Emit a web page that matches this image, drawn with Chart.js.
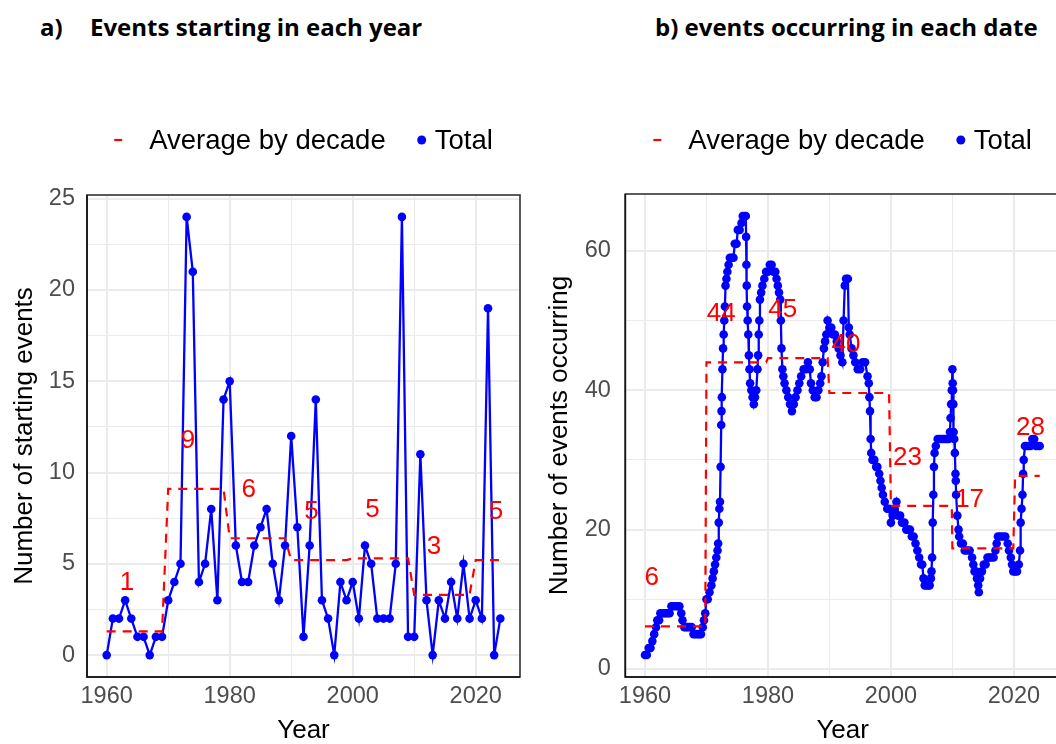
<!DOCTYPE html>
<html><head><meta charset="utf-8">
<script src="https://cdn.jsdelivr.net/npm/chart.js@4.4.1/dist/chart.umd.min.js"></script>
<style>
html,body{margin:0;padding:0;background:#fff;width:1056px;height:744px;overflow:hidden;position:relative}
.ttl{position:absolute;top:13px;font-family:"Open Sans",Lato,sans-serif;font-weight:bold;font-size:24px;line-height:28px;color:#000;white-space:pre}
canvas{position:absolute;top:0}
</style></head><body>
<div class="ttl" style="left:40px">a)</div>
<div class="ttl" style="left:90px">Events starting in each year</div>
<div class="ttl" style="left:655px">b) events occurring in each date</div>
<canvas id="ca" width="540" height="744" style="left:0"></canvas>
<canvas id="cb" width="540" height="744" style="left:540px"></canvas>
<script>
// ---------- data ----------
const yearsA = [1960,1961,1962,1963,1964,1965,1966,1967,1968,1969,
  1970,1971,1972,1973,1974,1975,1976,1977,1978,1979,
  1980,1981,1982,1983,1984,1985,1986,1987,1988,1989,
  1990,1991,1992,1993,1994,1995,1996,1997,1998,1999,
  2000,2001,2002,2003,2004,2005,2006,2007,2008,2009,
  2010,2011,2012,2013,2014,2015,2016,2017,2018,2019,
  2020,2021,2022,2023,2024];
const startsA = [0,2,2,3,2,1,1,0,1,1,
  3,4,5,24,21,4,5,8,3,14,
  15,6,4,4,6,7,8,5,3,6,
  12,7,1,6,14,3,2,0,4,3,
  4,2,6,5,2,2,2,5,24,1,
  1,11,3,0,3,2,4,2,5,2,
  3,2,19,0,2];
const decades = [1960,1970,1980,1990,2000,2010,2020];
const avgA = [1.3,9.1,6.4,5.2,5.3,3.3,5.2];
const labelYearsA = [1963.3,1973.2,1983.1,1993.3,2003.2,2013.2,2023.3];

const datesB = [
  1960.0,1960.3,1960.6,1960.9,1961.2,1961.5,1961.8,1962.0,1962.3,1962.5,
  1962.8,1963.1,1963.4,1963.7,1964.0,1964.3,1964.6,1965.0,1965.3,1965.6,
  1965.9,1966.1,1966.4,1966.7,1967.0,1967.3,1967.6,1967.9,1968.2,1968.5,
  1968.8,1969.1,1969.4,1969.6,1969.8,
  1970.0,1970.2,1970.5,1970.8,1971.0,1971.2,1971.4,1971.6,1971.8,1971.9,
  1972.0,1972.1,1972.2,1972.3,1972.4,1972.45,1972.5,1972.6,1972.7,1972.8,
  1972.9,1973.0,1973.1,1973.25,1973.4,1973.6,1973.8,1974.1,1974.4,1974.6,
  1974.9,1975.1,1975.4,1975.7,1975.9,1976.2,1976.4,1976.45,1976.5,1976.55,
  1976.6,1976.7,1976.8,1976.9,1977.0,1977.1,1977.3,1977.5,1977.7,1977.9,
  1978.1,1978.3,1978.4,1978.5,1978.6,1978.7,1978.9,1979.1,1979.4,1979.7,
  1980.0,1980.3,1980.6,1980.9,1981.2,1981.4,1981.6,1981.8,1982.0,1982.1,
  1982.2,1982.35,1982.5,1982.7,1983.0,1983.3,1983.6,1983.9,1984.2,1984.5,
  1984.8,1985.1,1985.4,1985.8,1986.2,1986.5,1986.8,1987.0,1987.3,1987.6,
  1987.9,1988.2,1988.5,1988.7,1988.9,1989.1,1989.3,1989.5,1989.7,
  1990.0,1990.3,1990.6,1990.9,1991.2,1991.5,1991.8,1992.1,1992.3,1992.5,
  1992.7,1993.0,1993.15,1993.3,1993.6,1993.9,1994.2,1994.6,1995.0,1995.4,
  1995.8,1996.2,1996.4,1996.5,1996.6,1996.7,1996.8,1997.0,1997.3,1997.6,
  1997.8,1998.1,1998.3,1998.5,1998.7,1999.0,1999.4,1999.7,
  2000.0,2000.3,2000.6,2000.9,2001.2,2001.5,2001.8,2002.2,2002.5,2002.8,
  2003.1,2003.4,2003.7,2004.0,2004.3,2004.6,2004.9,2005.1,2005.3,2005.5,
  2005.8,2006.1,2006.3,2006.5,2006.6,2006.7,2006.8,2006.9,2007.0,2007.1,
  2007.3,2007.6,2007.9,2008.2,2008.5,2008.8,2009.1,2009.4,2009.6,2009.7,
  2009.8,2009.9,
  2010.0,2010.05,2010.1,2010.15,2010.2,2010.3,2010.4,2010.5,2010.55,2010.6,
  2010.8,2011.0,2011.1,2011.4,2011.7,2012.0,2012.4,2012.8,2013.2,2013.4,
  2013.6,2013.8,2014.0,2014.2,2014.3,2014.5,2014.8,2015.1,2015.4,2015.7,
  2016.0,2016.3,2016.7,2017.0,2017.2,2017.4,2017.8,2018.2,2018.6,2019.0,
  2019.2,2019.5,2019.7,2019.9,
  2020.2,2020.5,2020.8,2021.0,2021.1,2021.25,2021.4,2021.5,2021.6,2021.8,
  2022.1,2022.4,2022.7,2023.0,2023.3,2023.6,2023.9,2024.2];
const occurringB = [
  2,2,3,3,4,5,6,7,7,8,
  8,8,8,8,8,9,9,9,9,9,
  8,7,6,6,6,6,6,5,5,5,
  5,5,6,7,8,
  10,10,11,12,13,14,15,16,17,18,
  21,23,24,29,35,37,39,43,46,48,
  50,52,55,56,57,58,59,59,59,61,
  61,63,63,64,65,65,65,62,58,55,
  52,50,48,45,43,41,40,39,38,39,
  40,43,45,48,50,53,54,55,56,57,
  57,58,58,57,57,56,55,54,53,50,
  46,43,42,41,40,39,38,37,38,39,
  40,41,42,43,43,44,43,41,40,39,
  39,40,41,42,44,46,47,48,50,
  49,49,48,48,47,46,45,44,50,55,
  56,56,49,48,46,45,44,43,43,44,
  44,42,41,39,37,33,31,30,30,29,
  29,28,27,26,25,24,23,23,
  21,22,23,24,22,22,21,21,20,20,
  20,19,19,18,17,16,15,15,13,12,
  12,12,12,13,14,16,21,25,29,31,
  32,33,33,33,33,33,33,33,34,36,
  38,40,
  43,41,40,38,34,33,31,28,27,25,
  22,20,19,18,18,17,17,17,16,15,
  14,14,13,12,11,13,14,15,15,16,
  16,16,16,17,18,19,19,19,19,18,
  17,16,15,14,
  14,14,15,17,21,23,25,28,30,32,
  32,32,32,33,33,32,32,32];
const avgB = [6.1,44.0,44.6,39.6,23.4,17.3,27.7];
const labelYearsB = [1961.1,1972.4,1982.4,1992.7,2002.7,2012.8,2022.7];

const xTicks = [1960,1970,1980,1990,2000,2010,2020];
const yTicksA = [0,2.5,5,7.5,10,12.5,15,17.5,20,22.5,25];
const yTicksB = [0,10,20,30,40,50,60];

// ---------- helpers ----------
const FAM = '"Liberation Sans", Arial, sans-serif';
const decadeAvg = (x, avg) => avg[decades.indexOf(Math.floor(x / 10) * 10)];

function extrasPlugin(cfg) {
  return {
    id: 'extras',
    afterDraw(chart) {
      const ctx = chart.ctx, ca = chart.chartArea;
      const xs = chart.scales.x, ys = chart.scales.y;
      ctx.save();
      // decade average labels
      ctx.font = '26px ' + FAM;
      ctx.fillStyle = '#ff0000';
      ctx.textAlign = 'center';
      ctx.textBaseline = 'middle';
      cfg.avg.forEach((a, i) => {
        ctx.fillText(String(Math.round(a)), xs.getPixelForValue(cfg.labelYears[i]), ys.getPixelForValue(a) - 48.5);
      });
      // panel border
      ctx.lineWidth = 1.6;
      ctx.strokeStyle = '#333333';
      ctx.strokeRect(ca.left, ca.top, ca.right - ca.left, ca.bottom - ca.top);
      ctx.strokeStyle = '#111111';
      ctx.beginPath();
      ctx.moveTo(ca.left, ca.top); ctx.lineTo(ca.left, ca.bottom); ctx.lineTo(ca.right, ca.bottom);
      ctx.stroke();
      // legend
      ctx.font = '27.5px ' + FAM;
      ctx.textAlign = 'left';
      const t1 = 'Average by decade', t2 = 'Total';
      const w1 = ctx.measureText(t1).width, w2 = ctx.measureText(t2).width;
      const total = 35 + w1 + 36 + 13 + w2;
      const sx = (ca.left + ca.right) / 2 - total / 2;
      const ly = 140;
      ctx.strokeStyle = '#ff0000'; ctx.lineWidth = 2.2;
      ctx.beginPath(); ctx.moveTo(sx, ly); ctx.lineTo(sx + 8, ly); ctx.stroke();
      ctx.fillStyle = '#000000';
      ctx.fillText(t1, sx + 35, ly + 1);
      const dx = sx + 35 + w1 + 36;
      ctx.fillStyle = '#0000ff';
      ctx.beginPath(); ctx.arc(dx, ly, 4.5, 0, Math.PI * 2); ctx.fill();
      ctx.fillStyle = '#000000';
      ctx.fillText(t2, dx + 13, ly + 1);
      ctx.restore();
    }
  };
}

function makeChart(id, cfg) {
  return new Chart(document.getElementById(id), {
    type: 'line',
    data: {
      datasets: [
        {
          label: 'Average by decade',
          data: cfg.xs.map(x => ({x: x, y: decadeAvg(x, cfg.avg)})),
          borderColor: '#ff0000', borderWidth: 2.2, borderDash: [9, 7],
          pointRadius: 0, tension: 0, fill: false
        },
        {
          label: 'Total',
          data: cfg.xs.map((x, i) => ({x: x, y: cfg.ys[i]})),
          borderColor: '#0000ff', backgroundColor: '#0000ff', borderWidth: 2.3,
          pointRadius: 4.3, pointBorderWidth: 0, pointBackgroundColor: '#0000ff',
          tension: 0, fill: false
        }
      ]
    },
    options: {
      responsive: false, animation: false, devicePixelRatio: 1,
      layout: {padding: {left: 0, top: cfg.top, right: 20, bottom: 0}},
      plugins: {legend: {display: false}, tooltip: {enabled: false}},
      scales: {
        x: {
          type: 'linear', min: 1956.8, max: cfg.xmax,
          afterBuildTicks: s => { s.ticks = xTicks.map(v => ({value: v})); },
          afterFit: s => { s.height = 67; },
          ticks: {
            autoSkip: false, maxRotation: 0, padding: 8,
            color: '#4d4d4d', font: {family: FAM, size: 23.5, lineHeight: 1},
            callback: v => (v % 20 === 0 ? String(v) : '')
          },
          grid: {
            color: '#ebebeb', drawTicks: false,
            lineWidth: c => (c.tick && c.tick.value % 20 === 0 ? 2 : 1)
          },
          border: {display: false},
          title: {display: true, text: 'Year', color: '#000', padding: {top: 0, bottom: 0},
                  font: {family: FAM, size: 26, lineHeight: 1}}
        },
        y: {
          type: 'linear', min: cfg.ymin, max: cfg.ymax,
          afterBuildTicks: s => { s.ticks = cfg.yTicks.map(v => ({value: v})); },
          afterFit: s => { s.width = cfg.yWidth; },
          ticks: {
            padding: cfg.yPad, color: '#4d4d4d', font: {family: FAM, size: 23.5, lineHeight: 1},
            callback: v => (v % cfg.yMajor === 0 ? String(v) : '')
          },
          grid: {
            color: '#ebebeb', drawTicks: false,
            lineWidth: c => (c.tick && c.tick.value % cfg.yMajor === 0 ? 2 : 1)
          },
          border: {display: false},
          title: {display: true, text: cfg.yTitle, color: '#000', padding: {top: cfg.yTitlePad, bottom: 0},
                  font: {family: FAM, size: 26, lineHeight: 1}}
        }
      }
    },
    plugins: [extrasPlugin(cfg)]
  });
}

makeChart('ca', {
  xs: yearsA, ys: startsA, avg: avgA, labelYears: labelYearsA,
  top: 195, xmax: 2027.2, ymin: -1.2, ymax: 25.2, yTicks: yTicksA, yMajor: 5,
  yWidth: 87, yPad: 12, yTitle: 'Number of starting events', yTitlePad: 12
});
makeChart('cb', {
  xs: datesB, ys: occurringB, avg: avgB, labelYears: labelYearsB,
  top: 194, xmax: 2027.5, ymin: -1.15, ymax: 68.15, yTicks: yTicksB, yMajor: 20,
  yWidth: 85.3, yPad: 14.5, yTitle: 'Number of events occurring', yTitlePad: 7
});
</script>
</body></html>
